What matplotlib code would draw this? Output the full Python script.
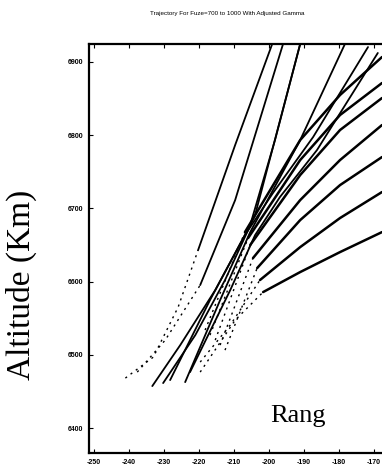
"""Trajectory fan chart (fuze 700..1000, adjusted gamma)."""
import matplotlib
matplotlib.use("Agg")
import matplotlib.pyplot as plt

# x = range, y = altitude (km); the first `dotted_n` points of each run are sparse/dotted
steep_x = [
    [-241.1, -233.1, -226.0, -220.3, -209.7, -199.1],
    [-237.7, -229.7, -219.7, -209.7, -196.0],
    [-233.4, -225.4, -215.4, -205.4, -198.3, -191.1],
    [-230.3, -221.1, -212.6, -204.0, -191.1],
    [-224.0, -214.0, -205.4, -191.1, -178.3],
    [-228.3, -216.9, -206.9, -198.9, -187.4, -171.7],
    [-222.6, -211.1, -204.0, -196.9, -186.3, -168.9],
]
steep_y = [
    [6468.3, 6497.0, 6565.3, 6643.1, 6786.6, 6924.6],
    [6476.5, 6520.2, 6595.3, 6711.4, 6924.6],
    [6457.4, 6513.4, 6588.5, 6677.3, 6793.4, 6924.6],
    [6461.5, 6527.0, 6602.2, 6691.0, 6924.6],
    [6462.8, 6574.8, 6667.7, 6793.4, 6924.6],
    [6465.6, 6574.8, 6663.6, 6721.0, 6797.5, 6920.4],
    [6476.5, 6588.5, 6663.6, 6715.5, 6779.7, 6912.3],
]
steep_dotted_n = [4, 3, 1, 1, 1, 1, 1]

fan_x = [
    [-218.3, -206.9, -191.1, -179.7, -167.7],
    [-216.9, -206.0, -191.1, -179.7, -167.7],
    [-215.4, -205.4, -191.1, -179.7, -167.7],
    [-214.0, -204.6, -191.1, -179.7, -167.7],
    [-212.6, -203.4, -191.1, -179.7, -167.7],
    [-219.7, -211.1, -202.6, -191.1, -179.7, -167.7],
    [-219.7, -209.7, -201.7, -191.1, -179.7, -167.7],
]
fan_y = [
    [6533.9, 6667.7, 6793.4, 6854.9, 6906.8],
    [6527.0, 6659.5, 6766.1, 6827.6, 6871.3],
    [6520.2, 6650.0, 6745.6, 6807.1, 6850.8],
    [6513.4, 6632.2, 6711.4, 6766.1, 6813.9],
    [6506.5, 6618.6, 6684.1, 6731.9, 6770.2],
    [6490.2, 6540.7, 6602.2, 6647.2, 6686.9, 6722.4],
    [6476.5, 6547.5, 6585.8, 6613.1, 6640.4, 6667.7],
]
fan_dotted_n = [2, 2, 2, 2, 2, 3, 3]

xticks = [-250, -240, -230, -220, -210, -200, -190, -180, -170]
yticks = [6400, 6500, 6600, 6700, 6800, 6900]

fig = plt.figure(figsize=(3.82, 4.76), dpi=100)
ax = fig.add_axes([0.233, 0.048, 0.767, 0.8596])


def draw(xs, ys, nd, lw):
    if nd > 1:
        ax.plot(xs[:nd], ys[:nd], color="black", lw=1.0, ls=(0, (1.5, 3.2)))
    ax.plot(xs[nd - 1:], ys[nd - 1:], color="black", lw=lw, solid_capstyle="round")


for xs, ys, nd in zip(steep_x, steep_y, steep_dotted_n):
    draw(xs, ys, nd, 1.3)
for xs, ys, nd in zip(fan_x, fan_y, fan_dotted_n):
    draw(xs, ys, nd, 1.8)

ax.set_xlim(-251.5, -167.7)
ax.set_ylim(6365.8, 6924.6)
ax.set_xticks(xticks, [str(v) for v in xticks])
ax.set_yticks(yticks, [str(v) for v in yticks])
ax.tick_params(direction="in", length=3, width=0.8, top=True, labelsize=5,
               pad=4, colors="black")
for lab in ax.get_xticklabels() + ax.get_yticklabels():
    lab.set_family("Liberation Sans")
    lab.set_fontweight("bold")
ax.spines["right"].set_visible(False)
for s in ("left", "top", "bottom"):
    ax.spines[s].set_linewidth(1.6)

fig.text(0.594, 0.971, "Trajectory For Fuze=700 to 1000 With Adjusted Gamma",
         ha="center", va="center", fontsize=4.5, family="Liberation Sans")
fig.text(21 / 382, 1 - 285 / 476, "Altitude (Km)", rotation=90, ha="center",
         va="center", fontsize=24, family="Liberation Serif")
ax.text(-191.6, 6416, "Rang", ha="center", va="center", fontsize=19,
        family="Liberation Serif")

fig.savefig("out.png", dpi=100)
